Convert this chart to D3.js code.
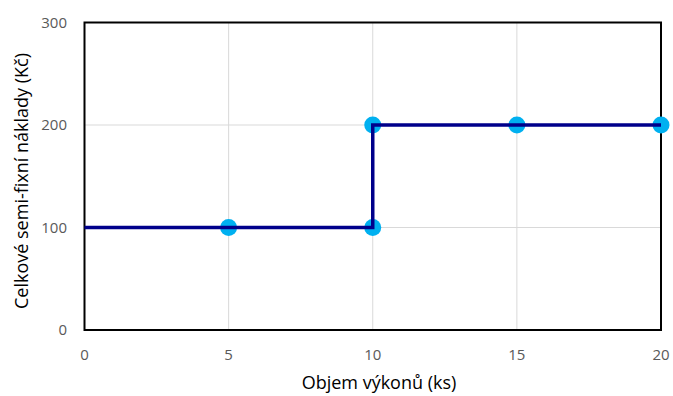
<!DOCTYPE html>
<html>
<head>
<meta charset="utf-8">
<script src="https://cdn.jsdelivr.net/npm/d3@7"></script>
<style>
  body { margin: 0; background: #fff; }
  text { font-family: "Open Sans", "Noto Sans", sans-serif; }
</style>
</head>
<body>
<script>
var width = 673;
var height = 396;

// step line of the costs
var lineX = [0, 10, 10, 20];
var lineY = [100, 100, 200, 200];
// observed points
var pointX = [5, 10, 10, 15, 20];
var pointY = [100, 100, 200, 200, 200];
var xTicks = [0, 5, 10, 15, 20];
var yTicks = [0, 100, 200, 300];

var svg = d3.select('body')
  .append('svg')
  .attr('width', width)
  .attr('height', height);

// plot box (window.top is taken, so prefixed names)
var plotL = 84.5, plotR = 661, plotT = 22.5, plotB = 330;

var x = d3.scaleLinear().domain([0, 20]).range([plotL, plotR]);
var y = d3.scaleLinear().domain([0, 300]).range([plotB, plotT]);

// gridlines
svg.append('g')
  .selectAll('line')
  .data(xTicks.slice(1, -1))
  .enter()
  .append('line')
  .attr('x1', d => x(d)).attr('x2', d => x(d))
  .attr('y1', plotT).attr('y2', plotB)
  .attr('stroke', '#d9d9d9');

svg.append('g')
  .selectAll('line')
  .data(yTicks.slice(1, -1))
  .enter()
  .append('line')
  .attr('x1', plotL).attr('x2', plotR)
  .attr('y1', d => y(d)).attr('y2', d => y(d))
  .attr('stroke', '#d9d9d9');

// frame
svg.append('rect')
  .attr('x', plotL).attr('y', plotT)
  .attr('width', plotR - plotL).attr('height', plotB - plotT)
  .attr('fill', 'none')
  .attr('stroke', '#000')
  .attr('stroke-width', 2);

// tick labels
svg.append('g')
  .selectAll('text')
  .data(xTicks)
  .enter()
  .append('text')
  .attr('x', d => x(d))
  .attr('y', 360)
  .attr('text-anchor', 'middle')
  .attr('fill', '#595959')
  .attr('font-size', 15)
  .text(d => d);

svg.append('g')
  .selectAll('text')
  .data(yTicks)
  .enter()
  .append('text')
  .attr('x', 67)
  .attr('y', d => y(d) + 5)
  .attr('text-anchor', 'end')
  .attr('fill', '#595959')
  .attr('font-size', 15)
  .text(d => d);

// axis titles
svg.append('text')
  .attr('x', 379)
  .attr('y', 389)
  .attr('text-anchor', 'middle')
  .attr('fill', '#000')
  .attr('font-size', 18)
  .text('Objem výkonů (ks)');

svg.append('text')
  .attr('transform', 'translate(28,181) rotate(-90)')
  .attr('text-anchor', 'middle')
  .attr('fill', '#000')
  .attr('font-size', 18)
  .text('Celkové semi-fixní náklady (Kč)');

// points
svg.append('g')
  .selectAll('circle')
  .data(pointX)
  .enter()
  .append('circle')
  .attr('cx', d => x(d))
  .attr('cy', (d, i) => y(pointY[i]))
  .attr('r', 8.5)
  .attr('fill', '#00b0f0');

// step line
var line = d3.line()
  .x(d => x(d))
  .y((d, i) => y(lineY[i]));

svg.append('path')
  .attr('d', line(lineX))
  .attr('fill', 'none')
  .attr('stroke', '#00008b')
  .attr('stroke-width', 3.5);
</script>
</body>
</html>
